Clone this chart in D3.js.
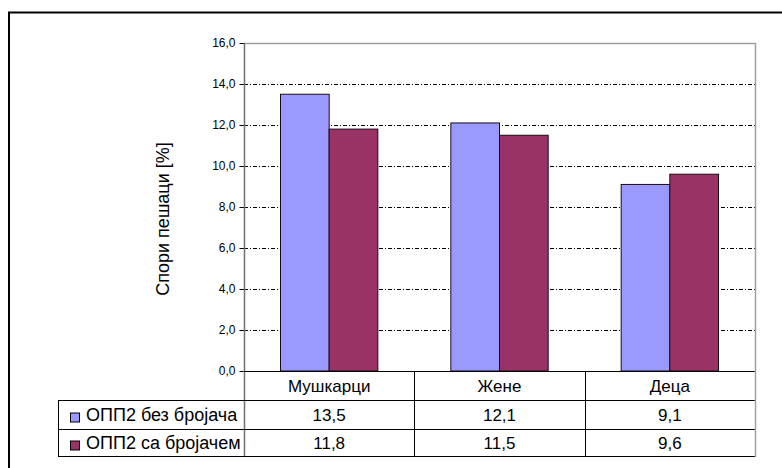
<!DOCTYPE html>
<html>
<head>
<meta charset="utf-8">
<script src="https://cdn.jsdelivr.net/npm/d3@7"></script>
<style>
  html, body { margin: 0; padding: 0; background: #fff; }
  svg { display: block; font-family: "Liberation Sans", Arial, sans-serif; }
</style>
</head>
<body>
<svg id="chart" width="782" height="468"></svg>
<script>
const categories = ["Мушкарци", "Жене", "Деца"];
const seriesNames = ["ОПП2 без бројача", "ОПП2 са бројачем"];
const seriesA = [13.5, 12.1, 9.1];
const seriesB = [11.8, 11.5, 9.6];
const tickValues = [0, 2, 4, 6, 8, 10, 12, 14, 16];
const yTitle = "Спори пешаци [%]";
const colors = ["#9999FF", "#993366"];

(function () {
const series = [seriesA, seriesB];
const fmt = v => d3.format(".1f")(v).replace(".", ",");

const svg = d3.select("#chart");
const pLeft = 244, pRight = 755, pTop = 43, pBottom = 371;
const rowH = [29, 29, 27];

// outer frame
svg.append("rect").attr("x", 9).attr("y", 12.5).attr("width", 800).attr("height", 500)
  .attr("fill", "none").attr("stroke", "#000").attr("stroke-width", 2);

const y = d3.scaleLinear().domain([0, 16]).range([pBottom, pTop]);
const x0 = d3.scaleBand().domain(categories).range([pLeft, pRight]).paddingInner(0).paddingOuter(0);
const x1 = d3.scaleBand().domain(seriesNames).range([0, x0.bandwidth()]).paddingInner(0).paddingOuter(0.75);

// gridlines
svg.append("g").selectAll("line").data(tickValues.filter(v => v > 0 && v < 16)).join("line")
  .attr("x1", pLeft).attr("x2", pRight)
  .attr("y1", d => Math.round(y(d)) + 0.5).attr("y2", d => Math.round(y(d)) + 0.5)
  .attr("stroke", "#000").attr("stroke-width", 1).attr("stroke-dasharray", "4,2,1,2");

// plot border top/right
svg.append("path")
  .attr("d", `M${pLeft},${pTop + 0.5}H${pRight + 0.5}V${pBottom}`)
  .attr("fill", "none").attr("stroke", "#a0a0a0").attr("stroke-width", 1.5);

// bars
const g = svg.append("g");
categories.forEach((c, ci) => {
  seriesNames.forEach((s, si) => {
    const v = series[si][ci];
    g.append("rect")
      .attr("x", x0(c) + x1(s))
      .attr("y", y(v))
      .attr("width", x1.bandwidth())
      .attr("height", y(0) - y(v))
      .attr("fill", colors[si])
      .attr("stroke", "#1a0a14").attr("stroke-width", 1);
  });
});

// y axis
const yAxis = d3.axisLeft(y).tickValues(tickValues).tickFormat(fmt).tickSize(5).tickPadding(4);
const ya = svg.append("g").attr("transform", `translate(${pLeft + 0.5},0)`).call(yAxis);
ya.select(".domain").remove();
ya.selectAll(".tick line").attr("stroke", "#000");
ya.selectAll(".tick text").attr("font-size", 12).attr("fill", "#000")
  .attr("font-family", "'Liberation Sans', Arial, sans-serif");
svg.append("line").attr("x1", pLeft + 0.5).attr("x2", pLeft + 0.5).attr("y1", pTop).attr("y2", 456)
  .attr("stroke", "#707070").attr("stroke-width", 1.5);

// y title
svg.append("text")
  .attr("transform", `translate(169,219) rotate(-90)`)
  .attr("text-anchor", "middle")
  .attr("font-size", 18).attr("fill", "#000")
  .text(yTitle);

// data table
const tbl = svg.append("g").attr("stroke", "#000").attr("stroke-width", 1);
const rowY = [pBottom, pBottom + rowH[0], pBottom + rowH[0] + rowH[1], pBottom + rowH[0] + rowH[1] + rowH[2]];
tbl.append("line").attr("x1", pLeft).attr("x2", pRight).attr("y1", pBottom + 0.5).attr("y2", pBottom + 0.5);
[1, 2, 3].forEach(i => {
  tbl.append("line").attr("x1", 58).attr("x2", pRight).attr("y1", rowY[i] + 0.5).attr("y2", rowY[i] + 0.5);
});
tbl.append("line").attr("x1", 58.5).attr("x2", 58.5).attr("y1", rowY[1]).attr("y2", rowY[3]);
categories.forEach((c, i) => {
  if (i > 0) {
    tbl.append("line").attr("x1", Math.round(x0(c)) + 0.5).attr("x2", Math.round(x0(c)) + 0.5)
      .attr("y1", pBottom).attr("y2", rowY[3]);
  }
});
tbl.append("line").attr("x1", pRight + 0.5).attr("x2", pRight + 0.5).attr("y1", pBottom).attr("y2", rowY[3] + 1)
  .attr("stroke", "#a0a0a0").attr("stroke-width", 1.5);

// category labels
svg.append("g").selectAll("text").data(categories).join("text")
  .attr("x", d => x0(d) + x0.bandwidth() / 2)
  .attr("y", (rowY[0] + rowY[1]) / 2 + 6)
  .attr("text-anchor", "middle").attr("font-size", 17).attr("fill", "#000")
  .text(d => d);

// values & legend
seriesNames.forEach((s, si) => {
  const cy = (rowY[si + 1] + rowY[si + 2]) / 2;
  svg.append("rect").attr("x", 70.5).attr("y", cy - 1.5).attr("width", 9).attr("height", 9)
    .attr("fill", colors[si]).attr("stroke", "#000").attr("stroke-width", 1);
  svg.append("text").attr("x", 86).attr("y", cy + 6.5)
    .attr("font-size", 18).attr("fill", "#000").text(s);
  categories.forEach((c, ci) => {
    svg.append("text")
      .attr("x", x0(c) + x0.bandwidth() / 2)
      .attr("y", cy + 6.5)
      .attr("text-anchor", "middle").attr("font-size", 17).attr("fill", "#000")
      .text(fmt(series[si][ci]));
  });
});
})();
</script>
</body>
</html>
